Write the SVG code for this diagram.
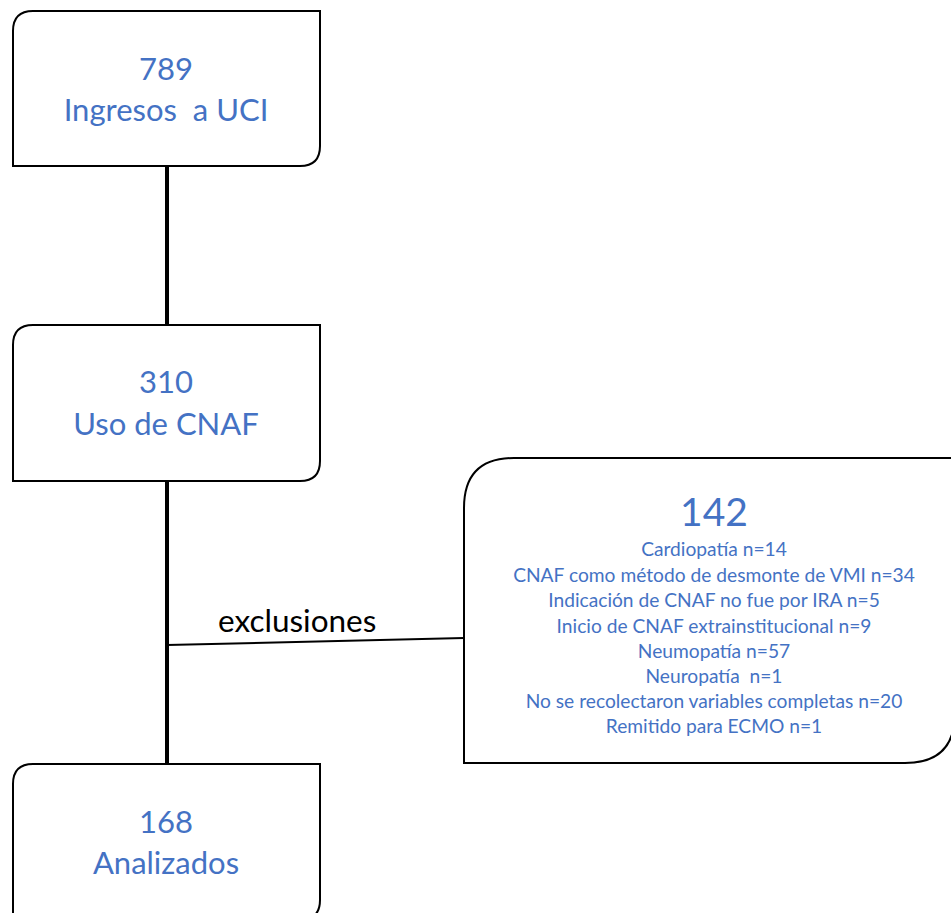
<svg xmlns="http://www.w3.org/2000/svg" width="951" height="913" viewBox="0 0 951 913">
<style>
.box{fill:#fff;stroke:#000;stroke-width:2}
.t{font-family:Lato,"Liberation Sans",sans-serif;fill:#4472C4;text-anchor:middle}
.big{font-size:31px}
.sm{font-size:19.2px}
.lbl{font-family:Lato,"Liberation Sans",sans-serif;font-size:31.5px;fill:#000}
</style>
<rect width="951" height="913" fill="#fff"/>
<g id="connectors">
<line x1="167" y1="166" x2="167" y2="325" stroke="#000" stroke-width="4"/>
<line x1="167" y1="481" x2="167" y2="764" stroke="#000" stroke-width="4"/>
<line x1="167" y1="645" x2="464" y2="638" stroke="#000" stroke-width="2"/>
<text class="lbl" x="218" y="632">exclusiones</text>
</g>
<g id="n1">
<path class="box" d="M33 11 H320 V146 Q320 166 300 166 H13 V31 Q13 11 33 11 Z"/>
<text class="t big" x="166" y="80">789</text>
<text class="t big" x="166" y="121" xml:space="preserve">Ingresos  a UCI</text>
</g>
<g id="n2">
<path class="box" d="M33 325 H320 V461 Q320 481 300 481 H13 V345 Q13 325 33 325 Z"/>
<text class="t big" x="166" y="393">310</text>
<text class="t big" x="166" y="435">Uso de CNAF</text>
</g>
<g id="n3">
<path class="box" d="M33 764 H320 V900 Q320 920 300 920 H13 V784 Q13 764 33 764 Z"/>
<text class="t big" x="166" y="833">168</text>
<text class="t big" x="166" y="874">Analizados</text>
</g>
<g id="n4">
<path class="box" d="M514 458 H955 V713 Q955 763 905 763 H464 V508 Q464 458 514 458 Z"/>
<text class="t" style="font-size:39px" x="714" y="526">142</text>
<text class="t sm" x="714" y="556">Cardiopatía n=14</text>
<text class="t sm" x="714" y="582">CNAF como método de desmonte de VMI n=34</text>
<text class="t sm" x="714" y="607">Indicación de CNAF no fue por IRA n=5</text>
<text class="t sm" x="714" y="633">Inicio de CNAF extrainstitucional n=9</text>
<text class="t sm" x="714" y="658">Neumopatía n=57</text>
<text class="t sm" x="714" y="683" xml:space="preserve">Neuropatía  n=1</text>
<text class="t sm" x="714" y="708">No se recolectaron variables completas n=20</text>
<text class="t sm" x="714" y="733">Remitido para ECMO n=1</text>
</g>
</svg>
